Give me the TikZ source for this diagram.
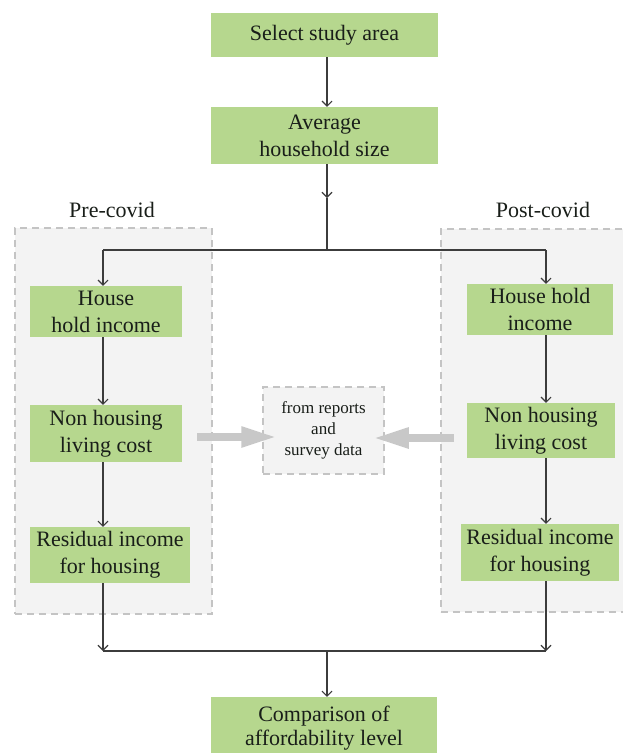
\documentclass[tikz,border=0pt]{standalone}
\usepackage{fontspec}
\setmainfont{Liberation Serif}
\usetikzlibrary{arrows.meta,calc}
\definecolor{boxgreen}{RGB}{182,215,142}
\definecolor{textc}{RGB}{25,30,25}
\definecolor{linec}{RGB}{60,60,60}
\definecolor{dashc}{RGB}{196,196,196}
\definecolor{panelc}{RGB}{243,243,243}
\definecolor{blockc}{RGB}{200,200,200}
\tikzset{
  gbox/.style={fill=boxgreen, inner sep=0pt, align=center, text=textc,
    font=\fontsize{22}{27}\selectfont},
  panel/.style={draw=dashc, fill=panelc, line width=1.5pt, dash pattern=on 7pt off 5pt},
  conn/.style={draw=linec, line width=1.2pt, -{Straight Barb[length=5pt,width=10pt,line width=1.1pt]}},
  plain/.style={draw=linec, line width=1.2pt},
  blockarrow/.style={draw=blockc, line width=8pt, -{Triangle[length=36pt,width=19pt]}},
  lbl/.style={text=textc, font=\fontsize{22}{27}\selectfont, anchor=base, inner sep=0pt}
}
\begin{document}
\begin{tikzpicture}[x=1pt,y=-1pt]
\useasboundingbox (0,0) rectangle (622,753);
% panels
\node[panel, anchor=north west, minimum width=197pt, minimum height=386pt, inner sep=0pt] (pre) at (14,227) {};
\node[panel, anchor=north west, minimum width=205pt, minimum height=383pt, inner sep=0pt] (post) at (440,228) {};
\node[lbl] (prelbl) at (112,217) {Pre-covid};
\node[lbl] (postlbl) at (543,217) {Post-covid};
% middle box
\node[panel, minimum width=121pt, minimum height=87pt, inner sep=0pt, align=center, text=textc,
  font=\fontsize{17}{21}\selectfont] (mid) at (323.5,430.5) {from reports\\and\\survey data};
% green boxes
\node[gbox, minimum width=227pt, minimum height=44pt] (sel) at (324.5,35) {Select study area};
\node[gbox, minimum width=227pt, minimum height=57pt] (avg) at (324.5,135.5) {Average\\household size};
\node[gbox, minimum width=152pt, minimum height=51pt] (Lhi) at (106,311.5) {House\\hold income};
\node[gbox, minimum width=152pt, minimum height=57pt] (Lnh) at (106,433.5) {Non housing\\living cost};
\node[gbox, minimum width=160pt, minimum height=56pt] (Lres) at (110,555) {Residual income\\for housing};
\node[gbox, minimum width=146pt, minimum height=51pt] (Rhi) at (540,309.5) {House hold\\income};
\node[gbox, minimum width=148pt, minimum height=55pt] (Rnh) at (541,430.5) {Non housing\\living cost};
\node[gbox, minimum width=158pt, minimum height=57pt] (Rres) at (540,552.5) {Residual income\\for housing};
\node[gbox, minimum width=226pt, minimum height=63pt, font=\fontsize{22}{24}\selectfont] (cmp) at (324,728.5) {Comparison of\\affordability level};
% coordinates
\coordinate (cx) at (327,0);
\coordinate (xl) at (103,0);
\coordinate (xr) at (546,0);
\coordinate (tip) at (327,198);
\coordinate (jt) at (327,250);
\coordinate (jb) at (327,651);
\coordinate (la) at (197,437);
\coordinate (ra) at (454,438);
% connectors top
\draw[conn] (sel.south -| cx) -- (avg.north -| cx);
\draw[conn] (avg.south -| cx) -- (tip);
\draw[plain] (tip) -- (jt);
\draw[plain] (jt -| xl) -- (jt -| xr);
\draw[conn] (jt -| xl) -- (Lhi.north -| xl);
\draw[conn] (jt -| xr) -- (Rhi.north -| xr);
% columns
\draw[conn] (Lhi.south -| xl) -- (Lnh.north -| xl);
\draw[conn] (Lnh.south -| xl) -- (Lres.north -| xl);
\draw[conn] (Rhi.south -| xr) -- (Rnh.north -| xr);
\draw[conn] (Rnh.south -| xr) -- (Rres.north -| xr);
% bottom
\draw[conn] (Lres.south -| xl) -- (jb -| xl);
\draw[conn] (Rres.south -| xr) -- (jb -| xr);
\draw[plain] (jb -| xl) -- (jb -| xr);
\draw[conn] (jb) -- (cmp.north -| jb);
% block arrows
\draw[blockarrow] (la) -- ($(mid.west |- la)+(15,0)$);
\draw[blockarrow] (ra) -- ($(mid.east |- ra)+(-12,0)$);
\end{tikzpicture}
\end{document}
